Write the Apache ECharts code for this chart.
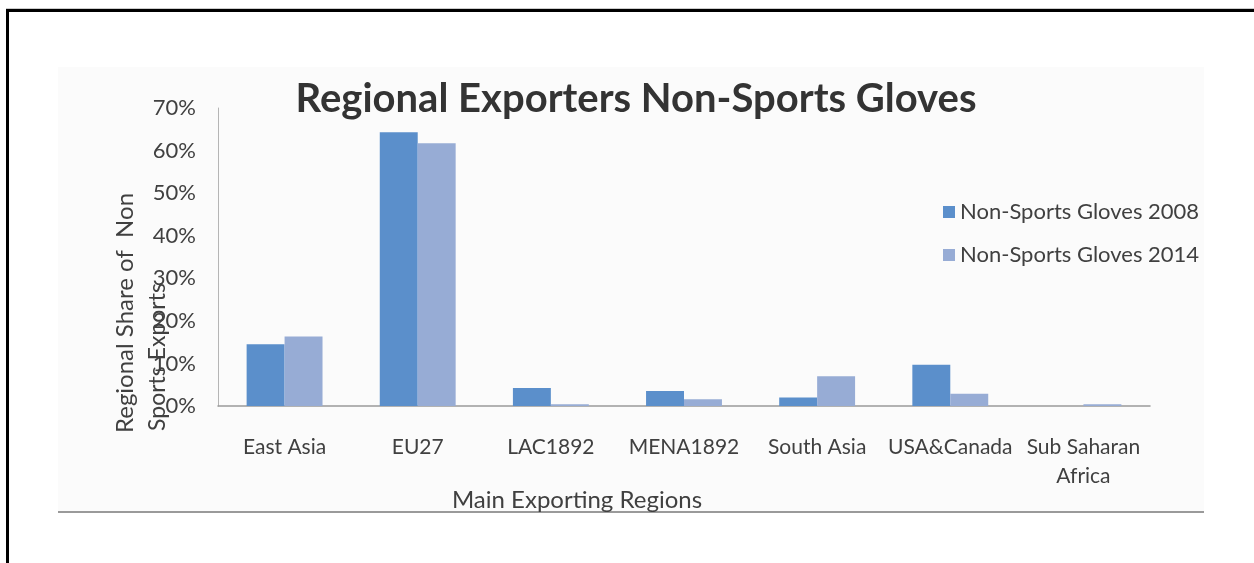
<!DOCTYPE html>
<html><head><meta charset="utf-8">
<script src="https://cdn.jsdelivr.net/npm/echarts@6/dist/echarts.min.js"></script>
<style>html,body{margin:0;padding:0;background:#fff}#c{width:1254px;height:563px}</style>
</head><body><div id="c"></div>
<script>
const categories = ['East Asia','EU27','LAC1892','MENA1892','South Asia','USA&Canada','Sub Saharan\nAfrica'];
const gloves2008 = [0.145, 0.643, 0.042, 0.035, 0.020, 0.097, 0.000];
const gloves2014 = [0.163, 0.617, 0.004, 0.016, 0.070, 0.029, 0.004];
const seriesNames = ['Non-Sports Gloves 2008','Non-Sports Gloves 2014'];
const yTicks = { min: 0, max: 0.7, interval: 0.1 };
const titleText = 'Regional Exporters Non-Sports Gloves';
const xName = 'Main Exporting Regions';
const yNameLines = ['Regional Share of  Non', 'Sports Exports'];

const FONT = 'Lato, "Open Sans", sans-serif';
const TXT = '#404040';
const chart = echarts.init(document.getElementById('c'), null, {renderer:'canvas'});
chart.setOption({
  animation: false,
  backgroundColor: '#ffffff',
  title: {
    text: titleText, left: 631, top: 74, textAlign: 'center',
    textStyle: { fontFamily: FONT, fontSize: 40, fontWeight: 'bold', color: '#333333' }
  },
  legend: {
    orient: 'vertical', left: 938, top: 196, itemWidth: 12, itemHeight: 12, itemGap: 21,
    icon: 'rect',
    textStyle: { fontFamily: FONT, fontSize: 22, color: TXT },
    data: seriesNames
  },
  grid: { left: 218, right: 104, top: 108, bottom: 157, containLabel: false },
  xAxis: {
    type: 'category', data: categories,
    axisLine: { lineStyle: { color: '#9a9a9a', width: 1.5 } },
    axisTick: { show: false },
    axisLabel: { fontFamily: FONT, fontSize: 21, color: TXT, margin: 27, lineHeight: 29, interval: 0 }
  },
  yAxis: {
    type: 'value', min: yTicks.min, max: yTicks.max, interval: yTicks.interval,
    splitLine: { show: false },
    axisLine: { show: true, lineStyle: { color: '#b5b5b5', width: 1 } },
    axisTick: { show: false },
    axisLabel: { fontFamily: FONT, fontSize: 22, color: TXT, margin: 22,
      formatter: v => Math.round(v * 100) + '%' }
  },
  series: [
    { name: seriesNames[0], type: 'bar', data: gloves2008, barGap: '0%', barCategoryGap: '43%',
      itemStyle: { color: '#5B8FCB' } },
    { name: seriesNames[1], type: 'bar', data: gloves2014, barGap: '0%', barCategoryGap: '43%',
      itemStyle: { color: '#97ACD5' } }
  ],
  graphic: [
    { type: 'rect', z: -10, silent: true, shape: { x: 58, y: 67, width: 1146, height: 445 }, style: { fill: '#fbfbfb' } },
    { type: 'rect', z: -5, silent: true, shape: { x: 58, y: 511, width: 1146, height: 2 }, style: { fill: '#9a9a9a' } },
    { type: 'rect', z: -5, silent: true, shape: { x: 6, y: 8, width: 1248, height: 1 }, style: { fill: '#cccccc' } },
    { type: 'rect', z: -5, silent: true, shape: { x: 6, y: 9, width: 1248, height: 3 }, style: { fill: '#000000' } },
    { type: 'rect', z: -5, silent: true, shape: { x: 6, y: 9, width: 3, height: 554 }, style: { fill: '#000000' } },
    { type: 'text', x: 577, y: 500, silent: true,
      style: { text: xName, fontFamily: FONT, fontSize: 24, fill: TXT, textAlign: 'center', textVerticalAlign: 'middle' } },
    { type: 'text', x: 125, y: 313, rotation: Math.PI / 2, silent: true,
      style: { text: yNameLines[0], fontFamily: FONT, fontSize: 24, fill: TXT, textAlign: 'center', textVerticalAlign: 'middle' } },
    { type: 'text', x: 158, y: 357, rotation: Math.PI / 2, silent: true,
      style: { text: yNameLines[1], fontFamily: FONT, fontSize: 23, fill: TXT, textAlign: 'center', textVerticalAlign: 'middle' } }
  ]
});
</script></body></html>
